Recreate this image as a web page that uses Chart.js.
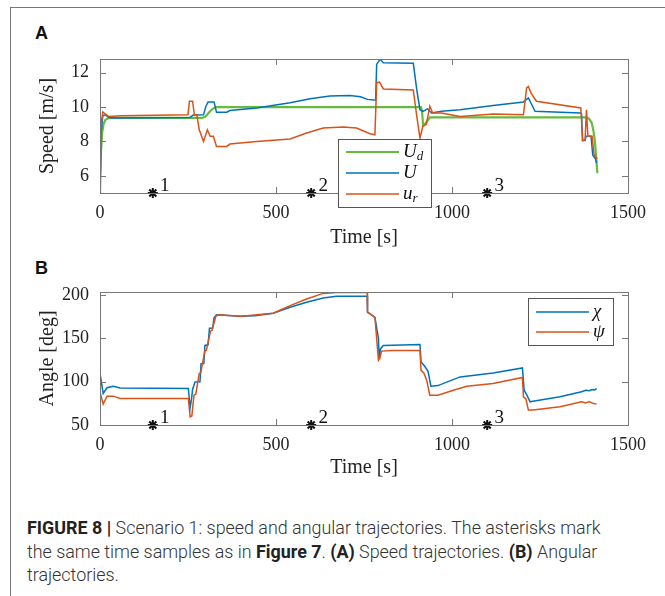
<!DOCTYPE html>
<html>
<head>
<meta charset="utf-8">
<script src="https://cdn.jsdelivr.net/npm/chart.js@4.4.1/dist/chart.umd.min.js"></script>
<style>
  body { margin: 0; background: #fff; width: 665px; height: 596px; overflow: hidden; position: relative; }
  #frame { position: absolute; left: 10px; top: 7px; width: 700px; height: 700px; border-left: 1px solid #777; border-top: 1px solid #777; }
  #c1 { position: absolute; left: 0; top: 0; }
  #c2 { position: absolute; left: 0; top: 250px; }
  .panel { position: absolute; left: 35px; font: bold 18px "Liberation Sans", Arial, sans-serif; color: #111; }
  #cap { position: absolute; left: 27px; top: 516px; font: 300 17.9px Roboto, sans-serif; line-height: 23.5px; color: #333; white-space: nowrap; }
  #cap b { color: #222; font-weight: 700; }
</style>
</head>
<body>
<div id="frame"></div>
<div class="panel" style="top:23px">A</div>
<div class="panel" style="top:258px">B</div>
<canvas id="c1" width="665" height="250"></canvas>
<canvas id="c2" width="665" height="230"></canvas>
<div id="cap"><b>FIGURE 8 |</b> Scenario 1: speed and angular trajectories. The asterisks mark<br>the same time samples as in <b>Figure 7</b>. <b>(A)</b> Speed trajectories. <b>(B)</b> Angular<br>trajectories.</div>

<script>
// axis ticks
const xTicks = [0, 500, 1000, 1500];
const speedTicks = [6, 8, 10, 12];
const angleTicks = [50, 100, 150, 200];

// asterisk time samples
const starT = [150, 600, 1100];
const starNames = ['1', '2', '3'];

// speed: desired U_d
const udT = [0, 3, 6, 10, 15, 25, 290, 300, 310, 320, 331, 912, 915, 918, 925, 937, 1383, 1390, 1397, 1402, 1406, 1409, 1413];
const udV = [5.0, 7.5, 8.5, 9.0, 9.25, 9.37, 9.37, 9.45, 9.7, 9.9, 10.0, 10.0, 9.7, 8.92, 9.05, 9.4, 9.4, 9.3, 9.08, 8.6, 8.0, 7.2, 6.15];

// speed: U
const uT = [0, 3, 8, 15, 25, 40, 256, 265, 294, 301, 307, 324, 331, 360, 369, 445, 540, 597, 653, 710, 740, 760, 783, 786, 796, 805, 890, 900, 909, 918, 930, 942, 970, 1023, 1117, 1203, 1217, 1236, 1364, 1368, 1371, 1378, 1381, 1395, 1400, 1407, 1411];
const uV = [5.0, 8.5, 9.5, 9.55, 9.4, 9.37, 9.4, 9.54, 9.55, 10.05, 10.3, 10.3, 9.7, 9.7, 9.8, 9.95, 10.25, 10.48, 10.65, 10.67, 10.6, 10.45, 10.4, 12.5, 12.78, 12.58, 12.55, 11.0, 9.85, 9.75, 9.9, 9.66, 9.76, 9.85, 10.1, 10.3, 10.53, 9.76, 9.66, 9.6, 8.05, 8.05, 8.3, 8.3, 7.2, 7.0, 6.75];

// speed: u_r
const urT = [0, 3, 8, 15, 25, 60, 250, 254, 263, 268, 275, 282, 294, 305, 313, 322, 331, 360, 369, 445, 540, 587, 634, 691, 729, 767, 781, 786, 794, 805, 890, 900, 909, 917, 927, 937, 945, 970, 1023, 1117, 1203, 1212, 1217, 1225, 1240, 1366, 1371, 1378, 1382, 1386, 1398, 1403, 1408, 1413];
const urV = [5.0, 9.0, 9.72, 9.6, 9.45, 9.5, 9.55, 10.34, 10.34, 9.55, 9.55, 8.68, 8.0, 8.68, 8.3, 8.3, 7.71, 7.71, 7.85, 8.0, 8.14, 8.49, 8.78, 8.84, 8.78, 8.45, 8.39, 11.42, 11.46, 11.06, 11.0, 9.46, 8.2, 8.88, 9.0, 10.05, 9.66, 9.66, 9.46, 9.6, 9.55, 11.12, 11.2, 10.8, 10.34, 9.95, 8.05, 8.1, 9.85, 8.3, 8.3, 7.3, 7.1, 7.0];

// angle: chi
const chiT = [0, 9, 20, 38, 57, 251, 256, 260, 263, 270, 284, 287, 295, 298, 307, 311, 320, 324, 331, 398, 440, 492, 540, 587, 634, 672, 759, 760, 767, 781, 791, 793, 797, 805, 909, 912, 922, 932, 940, 960, 1023, 1117, 1200, 1205, 1212, 1222, 1230, 1307, 1368, 1380, 1390, 1398, 1405, 1411];
const chiV = [110, 86.4, 93, 94.8, 92.8, 92.1, 69.9, 80, 91, 99.7, 100, 120.8, 121, 141.8, 142.5, 161.7, 162, 173.6, 177.1, 175.5, 176, 179, 185.8, 191.6, 196.6, 198.5, 198.5, 180, 178.5, 174.3, 150, 126.6, 138.1, 141.8, 143, 122.7, 118, 112, 94.8, 95.5, 105.5, 110.1, 115.8, 90.2, 85, 76.8, 77.5, 82.5, 88.3, 90, 89.5, 91, 90.5, 92.1];

// angle: psi
const psiT = [0, 9, 20, 38, 57, 251, 256, 261, 267, 272, 282, 286, 298, 302, 314, 318, 329, 335, 400, 492, 540, 587, 634, 672, 759, 760, 767, 781, 791, 795, 800, 833, 909, 912, 920, 928, 937, 960, 1004, 1042, 1117, 1200, 1203, 1210, 1217, 1230, 1307, 1368, 1380, 1390, 1400, 1411];
const psiV = [88.3, 74.1, 83.3, 83.3, 80.6, 80.6, 59.5, 60.5, 84.4, 85.5, 109.3, 110, 135.3, 136, 158.3, 159, 175.5, 177.1, 175.5, 179, 187.8, 195.4, 201.9, 203, 203, 180, 178.3, 174.3, 124.6, 127, 135.3, 136.1, 136.1, 113.1, 110, 101.7, 84.4, 84.4, 90.2, 94.8, 97.9, 104.8, 82.5, 80, 67.2, 67.2, 71, 76.8, 75.5, 77, 75, 74.1];

const BLUE = '#0072BD', ORANGE = '#D95319', GREEN = '#66BB3F';
const serif = '"Liberation Serif", "Times New Roman", serif';

function pts(t, v) { return t.map((x, i) => ({x: x, y: v[i]})); }

function line(label, t, v, color, w) {
  return { label: label, data: pts(t, v), borderColor: color, borderWidth: w,
           pointRadius: 0, tension: 0, fill: false };
}

function stars(yv) {
  return { label: 'samples', data: starT.map(t => ({x: t, y: yv})), showLine: false,
           pointStyle: 'star', pointRadius: 5, borderColor: '#111', borderWidth: 2,
           clip: false };
}

// box, inner tick marks, asterisk numbers, legend
function axesPlugin(legend) {
  return {
    id: 'mbox',
    afterDraw(chart) {
      const c = chart.ctx, a = chart.chartArea;
      const xs = chart.scales.x, ys = chart.scales.y;
      c.save();
      c.strokeStyle = '#777'; c.lineWidth = 1;
      c.strokeRect(Math.round(a.left) + 0.5, Math.round(a.top) + 0.5, Math.round(a.right - a.left), Math.round(a.bottom - a.top));
      c.beginPath();
      xTicks.forEach(v => {
        const px = Math.round(xs.getPixelForValue(v)) + 0.5;
        c.moveTo(px, a.bottom); c.lineTo(px, a.bottom - 6);
        c.moveTo(px, a.top); c.lineTo(px, a.top + 6);
      });
      ys.ticks.forEach(tk => {
        const py = Math.round(ys.getPixelForValue(tk.value)) + 0.5;
        c.moveTo(a.left, py); c.lineTo(a.left + 6, py);
        c.moveTo(a.right, py); c.lineTo(a.right - 6, py);
      });
      c.stroke();

      c.fillStyle = '#111'; c.font = '19px ' + serif; c.textBaseline = 'middle'; c.textAlign = 'center';
      starT.forEach((t, i) => {
        c.fillText(starNames[i], xs.getPixelForValue(t) + 12, ys.getPixelForValue(ys.min) - 7);
      });

      const b = legend.box;
      c.fillStyle = '#fff'; c.fillRect(b.x, b.y, b.w, b.h);
      c.strokeStyle = '#555'; c.strokeRect(b.x + 0.5, b.y + 0.5, b.w, b.h);
      c.textAlign = 'left';
      legend.items.forEach(it => {
        const ds = chart.data.datasets[it.ds];
        c.strokeStyle = ds.borderColor; c.lineWidth = ds.borderWidth;
        c.beginPath(); c.moveTo(b.x + 8, it.y); c.lineTo(b.x + 61, it.y); c.stroke();
        c.fillStyle = '#111'; c.font = 'italic 19px ' + serif;
        c.fillText(it.main, b.x + 65, it.y);
        if (it.sub) {
          const w = c.measureText(it.main).width;
          c.font = 'italic 13px ' + serif;
          c.fillText(it.sub, b.x + 65 + w, it.y + 5);
        }
      });
      c.restore();
    }
  };
}

function options(yMin, yMax, yTicks, yTitle, padTop, xAxisH) {
  return {
    animation: false, responsive: false, events: [],
    layout: { padding: { top: padTop, right: 37, left: 0, bottom: 0 } },
    plugins: { legend: { display: false }, tooltip: { enabled: false } },
    scales: {
      x: {
        type: 'linear', min: 0, max: 1500,
        afterBuildTicks: s => { s.ticks = xTicks.map(v => ({value: v})); },
        afterFit: s => { s.height = xAxisH; },
        grid: { display: false, drawTicks: false, tickLength: 0 },
        border: { display: false },
        ticks: { autoSkip: false, maxRotation: 0, padding: 9, color: '#222',
                 font: { family: serif, size: 18 }, callback: v => String(v) },
        title: { display: true, text: 'Time [s]', color: '#222', padding: { top: 0, bottom: 0 },
                 font: { family: serif, size: 20 } }
      },
      y: {
        min: yMin, max: yMax,
        afterBuildTicks: s => { s.ticks = yTicks.map(v => ({value: v})); },
        afterFit: s => { s.width = 100; },
        grid: { display: false, drawTicks: false, tickLength: 0 },
        border: { display: false },
        ticks: { autoSkip: false, padding: 11, color: '#222',
                 font: { family: serif, size: 18 }, callback: v => String(v) },
        title: { display: true, text: yTitle, color: '#222', padding: { top: 36, bottom: 0 },
                 font: { family: serif, size: 20 } }
      }
    }
  };
}

new Chart(document.getElementById('c1'), {
  type: 'line',
  data: { datasets: [
    stars(5),
    line('u_r', urT, urV, ORANGE, 1.5),
    line('U', uT, uV, BLUE, 1.5),
    line('U_d', udT, udV, GREEN, 2.2)
  ] },
  options: options(5, 12.8, speedTicks, 'Speed [m/s]', 59, 57),
  plugins: [axesPlugin({
    box: { x: 338, y: 139, w: 93, h: 68 },
    items: [ { ds: 3, y: 152, main: 'U', sub: 'd' },
             { ds: 2, y: 173, main: 'U' },
             { ds: 1, y: 194, main: 'u', sub: 'r' } ]
  })]
});

new Chart(document.getElementById('c2'), {
  type: 'line',
  data: { datasets: [
    stars(50),
    line('ψ', psiT, psiV, ORANGE, 1.5),
    line('χ', chiT, chiV, BLUE, 1.5)
  ] },
  options: options(50, 203.5, angleTicks, 'Angle [deg]', 42, 55),
  plugins: [axesPlugin({
    box: { x: 528, y: 48, w: 85, h: 47 },
    items: [ { ds: 2, y: 62, main: 'χ' },
             { ds: 1, y: 82, main: 'ψ' } ]
  })]
});
</script>
</body>
</html>
